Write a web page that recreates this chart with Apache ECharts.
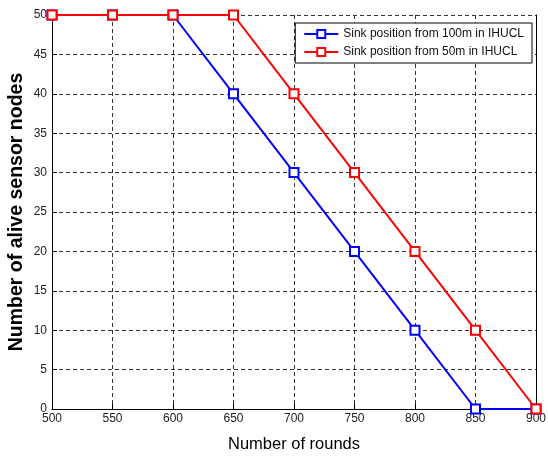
<!DOCTYPE html>
<html><head><meta charset="utf-8">
<script src="https://cdn.jsdelivr.net/npm/echarts@6/dist/echarts.min.js"></script>
<style>html,body{margin:0;padding:0;background:#fff}#c{width:548px;height:456px}</style>
</head><body><div id="c"></div>
<script>
const rounds = ['500','550','600','650','700','750','800','850','900'];
const sink100 = [50,50,50,40,30,20,10,0,0];
const sink50 = [50,50,50,50,40,30,20,10,0];
const yTicks = [0,5,10,15,20,25,30,35,40,45,50];
const seriesNames = ['Sink position from 100m in IHUCL','Sink position from 50m in IHUCL'];
const F = '"Liberation Sans Narrow","Liberation Sans",Arial,sans-serif';
const chart = echarts.init(document.getElementById('c'));
chart.setOption({
  animation:false,
  grid:{left:52,right:12,top:15,bottom:47,containLabel:false,outerBoundsMode:'none'},
  legend:{
    data:seriesNames, orient:'vertical', right:16, top:23,
    backgroundColor:'#fff', borderColor:'#000', borderWidth:1, borderRadius:0,
    padding:[5,8,5,8], itemGap:6, itemWidth:34, itemHeight:10,
    textStyle:{fontFamily:F,fontSize:12,color:'#111'}
  },
  xAxis:[{
    type:'category', data:rounds, boundaryGap:false,
    name:'Number of rounds', nameLocation:'middle', nameGap:27, nameMoveOverlap:false,
    nameTextStyle:{fontFamily:F,fontSize:16.5,color:'#000'},
    axisLine:{lineStyle:{color:'#000',width:1}},
    axisTick:{inside:true,length:5,lineStyle:{color:'#000'}},
    axisLabel:{fontFamily:F,fontSize:12,color:'#222',margin:4},
    splitLine:{show:true,lineStyle:{color:'#333',type:[4,3],width:1}}
  },{
    type:'category', data:rounds, boundaryGap:false, position:'top',
    axisLine:{show:true,lineStyle:{color:'#000',width:1}},
    axisTick:{show:false}, axisLabel:{show:false}, splitLine:{show:false}
  }],
  yAxis:[{
    type:'value', min:0, max:50, interval:5,
    name:'Number of alive sensor nodes', nameLocation:'middle', nameGap:25, nameMoveOverlap:false,
    nameTextStyle:{fontFamily:'"Liberation Sans",Arial,sans-serif',fontSize:19.5,fontWeight:'bold',color:'#000'},
    axisLine:{show:true,lineStyle:{color:'#000',width:1}},
    axisTick:{show:true,inside:true,length:5,lineStyle:{color:'#000'}},
    axisLabel:{fontFamily:F,fontSize:12,color:'#222',margin:5},
    splitLine:{show:true,lineStyle:{color:'#333',type:[4,3],width:1}}
  },{
    type:'value', min:0, max:50, interval:5, position:'right',
    axisLine:{show:true,lineStyle:{color:'#000',width:1}},
    axisTick:{show:false}, axisLabel:{show:false}, splitLine:{show:false}
  }],
  series:[
    {name:seriesNames[0],type:'line',data:sink100,symbol:'rect',symbolSize:9,
     lineStyle:{color:'#0000ff',width:2},itemStyle:{color:'#fff',borderColor:'#0000ff',borderWidth:2},color:'#0000ff'},
    {name:seriesNames[1],type:'line',data:sink50,symbol:'rect',symbolSize:9,
     lineStyle:{color:'#ff0000',width:2},itemStyle:{color:'#fff',borderColor:'#ff0000',borderWidth:2},color:'#ff0000'}
  ]
});
</script></body></html>
